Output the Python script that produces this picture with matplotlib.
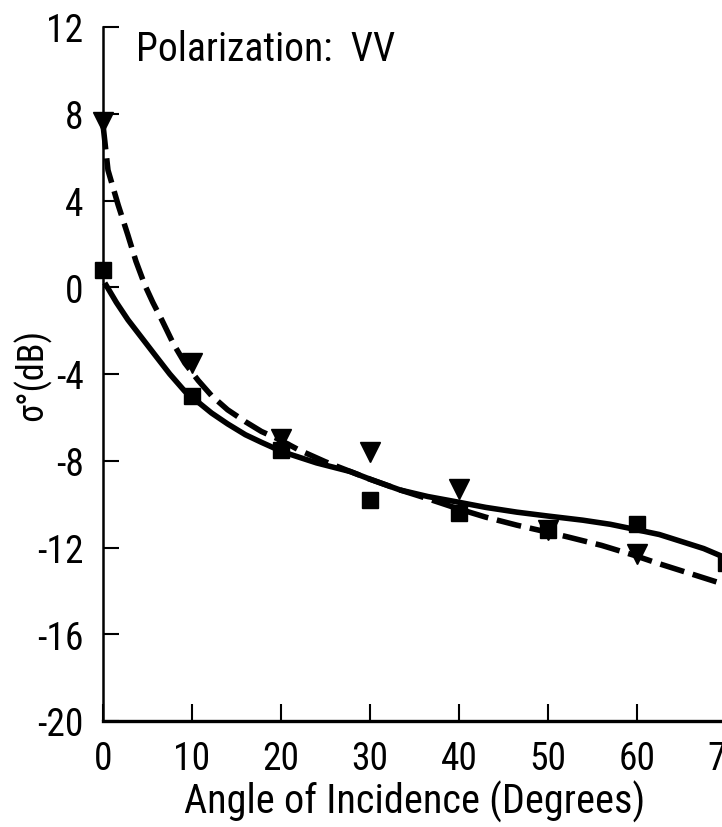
import matplotlib
matplotlib.use("Agg")
import matplotlib.pyplot as plt
from matplotlib import font_manager
from matplotlib.font_manager import FontProperties

# pick a condensed sans font if one is installed
def _is_cond(f):
    st = f.stretch
    if isinstance(st, str):
        return st in ('condensed', 'semi-condensed', 'extra-condensed', 'ultra-condensed')
    return st < 500
cands = [f for f in font_manager.fontManager.ttflist
         if ('Narrow' in f.name or 'Condensed' in f.name or _is_cond(f))
         and 'Mono' not in f.name and 'Serif' not in f.name
         and f.style == 'normal' and f.weight in (400, 'normal', 'regular')]
pref = ['Liberation Sans Narrow', 'Roboto Condensed', 'Open Sans Condensed', 'DejaVu Sans', 'Noto Sans']
cands.sort(key=lambda f: next((i for i, p in enumerate(pref) if f.name.startswith(p)), 99))
if cands:
    FNAME = cands[0].fname
    COND = True
else:
    FNAME = font_manager.findfont(FontProperties(family='Liberation Sans'))
    COND = False
SCALE = 1.0 if COND else 0.86

def fp(size):
    return FontProperties(fname=FNAME, size=size * SCALE)

# Measured points
angles = [0, 10, 20, 30, 40, 50, 60, 70]
sq_vals = [0.8, -5.0, -7.5, -9.8, -10.4, -11.2, -10.9, -12.7]
tri_angles = [0, 10, 20, 30, 40, 50, 60]
tri_vals = [7.6, -3.5, -7.0, -7.6, -9.3, -11.2, -12.3]

# Fitted curves
solid_x = [0.2, 1.5, 2.8, 4.3, 5.8, 7.5, 9.2, 10.7, 12.2, 14.0, 16.0, 17.8, 19.7, 21.0, 24.0, 27.8,
           30.0, 33.4, 36.5, 39.8, 43.0, 46.5, 50.0, 53.9, 57.0, 59.6, 62.5, 65.2, 67.5, 69.8]
solid_y = [0.2, -0.7, -1.5, -2.3, -3.1, -4.0, -4.8, -5.3, -5.8, -6.3, -6.8, -7.15, -7.5, -7.7, -8.1, -8.5,
           -8.85, -9.35, -9.65, -9.9, -10.15, -10.37, -10.55, -10.74, -10.93, -11.15, -11.4, -11.75, -12.05, -12.45]
dash_x = [0.0, 0.56, 1.7, 2.8, 3.7, 4.7, 5.6, 6.6, 7.9, 9.2, 10.7, 12.2, 14.0, 16.0, 17.8, 19.7, 22.0, 25.0,
          27.8, 30.0, 33.4, 36.5, 39.8, 43.0, 46.5, 49.5, 52.1, 56.0, 59.6, 62.5, 65.2, 67.5, 69.8]
dash_y = [7.5, 5.4, 3.8, 2.4, 1.2, 0.1, -0.7, -1.5, -2.6, -3.5, -4.3, -5.0, -5.65, -6.2, -6.65, -7.0, -7.5, -8.05,
          -8.5, -8.85, -9.35, -9.75, -10.2, -10.6, -10.97, -11.25, -11.5, -11.9, -12.35, -12.75, -13.1, -13.4, -13.7]

xticks = [0, 10, 20, 30, 40, 50, 60, 70]
yticks = [12, 8, 4, 0, -4, -8, -12, -16, -20]

fig = plt.figure(figsize=(7.22, 8.28), dpi=100)
ax = fig.add_axes([103/722, 106/828, 623/722, 694/828])

ax.plot(solid_x, solid_y, color='black', lw=4.0, solid_capstyle='butt', solid_joinstyle='round', clip_on=False)
ax.plot(dash_x, dash_y, color='black', lw=4.0, dashes=(4.5, 1.6), dash_joinstyle='round', clip_on=False)
ax.plot(angles, sq_vals, ls='none', marker='s', ms=12, color='black', clip_on=False)
ax.plot(tri_angles, tri_vals, ls='none', marker='v', ms=15, color='black', clip_on=False)

ax.set_xlim(0, 70)
ax.set_ylim(-20, 12)
ax.set_xticks(xticks)
ax.set_yticks(yticks)
ax.set_yticklabels([str(v) for v in yticks])

for s in ['top', 'right']:
    ax.spines[s].set_visible(False)
ax.spines['left'].set_linewidth(1.8)
ax.spines['bottom'].set_linewidth(2.4)

ax.tick_params(axis='y', direction='in', length=11.5, width=1.5, pad=14)
ax.tick_params(axis='x', direction='in', length=12.5, width=1.5, pad=14)
for lab in ax.get_xticklabels() + ax.get_yticklabels():
    lab.set_fontproperties(fp(27))

ax.set_xlabel('Angle of Incidence (Degrees)', fontproperties=fp(29), labelpad=2)
ax.set_ylabel('σ°(dB)', fontproperties=fp(26), labelpad=4)
ax.yaxis.set_label_coords(-0.083, 0.50)
ax.text(3.7, 11.0, 'Polarization:  VV', fontproperties=fp(28.5), va='center', ha='left')

fig.savefig('out.png', dpi=100)
